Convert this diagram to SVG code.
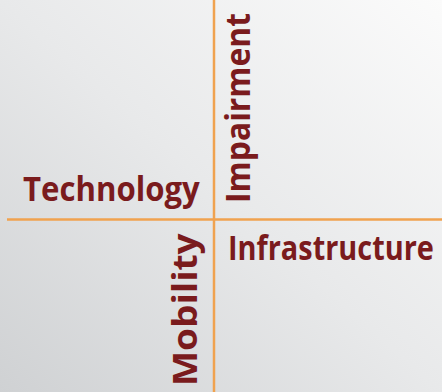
<svg xmlns="http://www.w3.org/2000/svg" width="442" height="392" viewBox="0 0 442 392">
  <defs>
    <linearGradient id="bg" x1="0" y1="1" x2="1" y2="0">
      <stop offset="0" stop-color="#cfd1d3"/>
      <stop offset="0.5" stop-color="#e8e9ea"/>
      <stop offset="1" stop-color="#fbfbfb"/>
    </linearGradient>
  </defs>
  <style>
    .lbl { font-family: "Open Sans", "Liberation Sans", sans-serif; font-weight: 700; font-size: 34px; fill: #7a1b1d; }
    .axis { stroke: #f0a24f; stroke-width: 2.5; fill: none; }
  </style>
  <rect x="0" y="0" width="442" height="392" fill="url(#bg)"/>
  <g id="connectors">
    <line class="axis" x1="214" y1="0" x2="214" y2="392"/>
    <line class="axis" x1="7" y1="219.5" x2="442" y2="219.5"/>
  </g>
  <g id="technology">
    <text class="lbl" transform="translate(23,200.5) scale(0.83,1)" textLength="213" lengthAdjust="spacingAndGlyphs">Technology</text>
  </g>
  <g id="infrastructure">
    <text class="lbl" transform="translate(228,260) scale(0.83,1)" textLength="248" lengthAdjust="spacingAndGlyphs">Infrastructure</text>
  </g>
  <g id="impairment">
    <text class="lbl" transform="translate(250,203) rotate(-90) scale(0.83,1)" textLength="229" lengthAdjust="spacingAndGlyphs">Impairment</text>
  </g>
  <g id="mobility">
    <text class="lbl" transform="translate(197,386) rotate(-90) scale(0.83,1)" textLength="184" lengthAdjust="spacingAndGlyphs">Mobility</text>
  </g>
</svg>
